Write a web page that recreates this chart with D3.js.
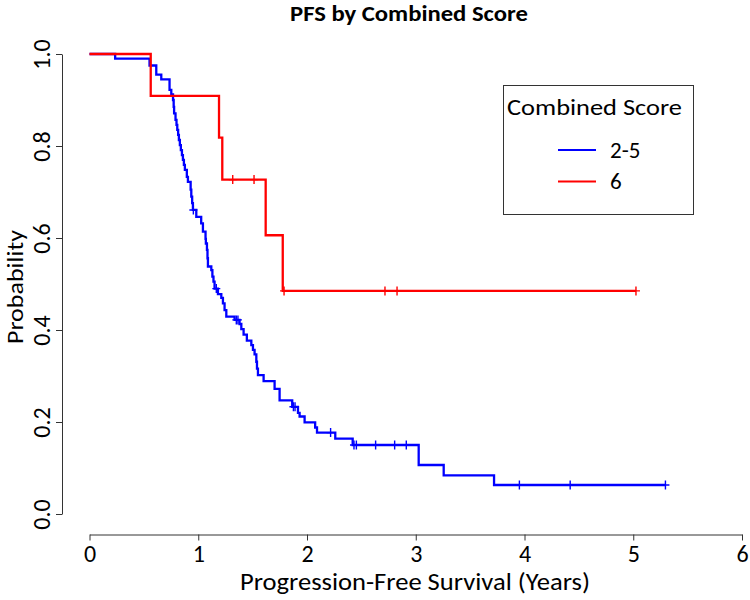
<!DOCTYPE html>
<html>
<head>
<meta charset="utf-8">
<script src="https://cdn.jsdelivr.net/npm/d3@7"></script>
<style>
  html, body { margin: 0; padding: 0; background: #fff; }
  svg { display: block; }
  text { font-family: Carlito, Lato, "Open Sans", sans-serif; fill: #000; }
</style>
</head>
<body>
<svg id="chart" width="750" height="600"></svg>
<script>
// ---- Data ----
const xTicks = [0, 1, 2, 3, 4, 5, 6];
const yTicks = [0, 0.2, 0.4, 0.6, 0.8, 1.0];
const legendTitle = "Combined Score";
const groupLabels = ["2-5", "6"];
const groupColors = ["#0000ff", "#ff0000"];

// Group "2-5": event times (years) and survival after each drop
const blueTimes = [0.236, 0.552, 0.614, 0.660, 0.736, 0.752, 0.768, 0.774, 0.778, 0.791,
  0.800, 0.807, 0.815, 0.822, 0.831, 0.840, 0.850, 0.859, 0.868, 0.877,
  0.895, 0.905, 0.930, 0.936, 0.944, 0.951, 0.982, 1.027, 1.043, 1.067,
  1.070, 1.080, 1.085, 1.089, 1.120, 1.130, 1.140, 1.150, 1.181, 1.212,
  1.227, 1.242, 1.258, 1.334, 1.380, 1.396, 1.417, 1.447, 1.488, 1.503,
  1.518, 1.534, 1.540, 1.549, 1.601, 1.702, 1.748, 1.864, 1.917, 1.932,
  1.978, 2.075, 2.092, 2.260, 2.420, 3.027, 3.257, 3.720];
const blueSurv = [0.990, 0.975, 0.955, 0.945, 0.922, 0.912, 0.900, 0.885, 0.871, 0.857,
  0.846, 0.835, 0.824, 0.813, 0.802, 0.791, 0.780, 0.770, 0.759, 0.748,
  0.733, 0.722, 0.705, 0.690, 0.676, 0.661, 0.646, 0.632, 0.614, 0.598,
  0.588, 0.574, 0.556, 0.538, 0.530, 0.516, 0.505, 0.490, 0.478, 0.470,
  0.458, 0.443, 0.429, 0.422, 0.413, 0.402, 0.390, 0.377, 0.367, 0.357,
  0.347, 0.331, 0.316, 0.302, 0.289, 0.272, 0.247, 0.233, 0.220, 0.212,
  0.199, 0.188, 0.177, 0.164, 0.150, 0.1065, 0.084, 0.063];
const blueCensor = [0.955, 1.166, 1.350, 1.365, 1.875, 1.890, 2.217, 2.432, 2.454,
  2.631, 2.806, 2.913, 3.953, 4.420, 5.296];

// Group "6"
const redTimes = [0.563, 1.191, 1.221, 1.620, 1.777];
const redSurv = [0.909, 0.818, 0.727, 0.606, 0.485];
const redCensor = [1.317, 1.513, 1.789, 2.717, 2.828, 5.025];

// ---- Layout ----
const svg = d3.select("#chart");
const x = d3.scaleLinear().domain([0, 6]).range([89.5, 742]);
const y = d3.scaleLinear().domain([0, 1]).range([514, 54]);
const axisColor = "#333";
const fontStack = "Carlito, Lato, 'Open Sans', sans-serif";

// step function lookup
function survAt(times, surv, t) {
  let s = 1;
  for (let i = 0; i < times.length; i++) { if (times[i] <= t) s = surv[i]; }
  return s;
}

function buildPoints(times, surv, censor) {
  const pts = [[0, 1]];
  times.forEach((t, i) => pts.push([t, surv[i]]));
  const tEnd = d3.max([d3.max(times), d3.max(censor)]);
  pts.push([tEnd, survAt(times, surv, tEnd)]);
  return pts;
}

const line = d3.line().x(d => x(d[0])).y(d => y(d[1])).curve(d3.curveStepAfter);

const groups = [
  {times: blueTimes, surv: blueSurv, censor: blueCensor, color: groupColors[0]},
  {times: redTimes, surv: redSurv, censor: redCensor, color: groupColors[1]}
];

groups.forEach(g => {
  svg.append("path")
    .datum(buildPoints(g.times, g.surv, g.censor))
    .attr("d", line)
    .attr("fill", "none")
    .attr("stroke", g.color)
    .attr("stroke-width", 2.3)
    .attr("stroke-linejoin", "miter");
  const cs = svg.append("g");
  g.censor.forEach(t => {
    const cx = x(t), cy = y(survAt(g.times, g.surv, t));
    cs.append("path")
      .attr("d", `M${cx - 4},${cy}H${cx + 4}M${cx},${cy - 4.5}V${cy + 4.5}`)
      .attr("stroke", g.color)
      .attr("stroke-width", 1.4)
      .attr("fill", "none");
  });
});

// ---- Axes ----
const xAxis = svg.append("g")
  .attr("transform", "translate(0,534.5)")
  .call(d3.axisBottom(x).tickValues(xTicks).tickFormat(d3.format("d")).tickSize(6).tickSizeOuter(0).tickPadding(4));
xAxis.select(".domain").attr("stroke", axisColor);
xAxis.selectAll(".tick line").attr("stroke", axisColor);
xAxis.selectAll("text").attr("font-size", 24).attr("font-family", null).attr("fill", "#000");

const yAxis = svg.append("g")
  .attr("transform", "translate(62,0)")
  .call(d3.axisLeft(y).tickValues(yTicks).tickFormat(d3.format(".1f")).tickSize(6).tickSizeOuter(0));
yAxis.select(".domain").attr("stroke", axisColor);
yAxis.selectAll(".tick line").attr("stroke", axisColor);
yAxis.selectAll("text")
  .attr("font-size", 24)
  .attr("font-family", null)
  .attr("fill", "#000")
  .attr("transform", "rotate(-90)")
  .attr("text-anchor", "middle")
  .attr("x", 0)
  .attr("y", -12)
  .attr("dy", null);

svg.selectAll(".tick text").style("font-family", fontStack);

// ---- Titles ----
svg.append("text")
  .attr("x", 409).attr("y", 21)
  .attr("text-anchor", "middle")
  .attr("font-size", 23)
  .attr("font-weight", "bold")
  .attr("textLength", 238)
  .attr("lengthAdjust", "spacingAndGlyphs")
  .text("PFS by Combined Score");

svg.append("text")
  .attr("x", 415).attr("y", 590)
  .attr("text-anchor", "middle")
  .attr("font-size", 24)
  .attr("textLength", 350)
  .attr("lengthAdjust", "spacingAndGlyphs")
  .text("Progression-Free Survival (Years)");

svg.append("text")
  .attr("transform", "translate(23,287) rotate(-90)")
  .attr("text-anchor", "middle")
  .attr("font-size", 22)
  .attr("textLength", 114)
  .attr("lengthAdjust", "spacingAndGlyphs")
  .text("Probability");

// ---- Legend ----
const leg = svg.append("g");
leg.append("rect")
  .attr("x", 503.5).attr("y", 85.5)
  .attr("width", 190).attr("height", 129)
  .attr("fill", "#fff")
  .attr("stroke", "#333").attr("stroke-width", 1);
leg.append("text")
  .attr("x", 507).attr("y", 115)
  .attr("font-size", 23)
  .attr("textLength", 175)
  .attr("lengthAdjust", "spacingAndGlyphs")
  .text(legendTitle);
groupLabels.forEach((lab, i) => {
  const ly = 150 + i * 31.5;
  leg.append("line")
    .attr("x1", 558).attr("x2", 596)
    .attr("y1", ly).attr("y2", ly)
    .attr("stroke", groupColors[i]).attr("stroke-width", 2);
  leg.append("text")
    .attr("x", 610).attr("y", ly + 7.5)
    .attr("font-size", 23)
    .text(lab);
});
</script>
</body>
</html>
